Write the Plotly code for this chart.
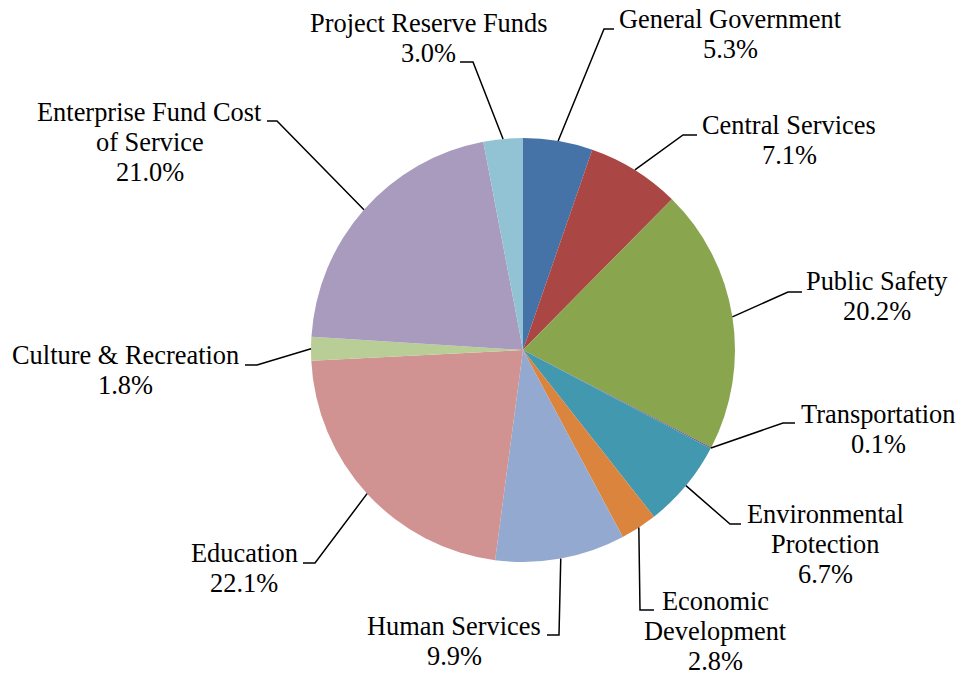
import math
import plotly.graph_objects as go

# ---- data ----
categories = ["General Government", "Central Services", "Public Safety", "Transportation",
              "Environmental Protection", "Economic Development", "Human Services", "Education",
              "Culture & Recreation", "Enterprise Fund Cost of Service", "Project Reserve Funds"]
values = [5.3, 7.1, 20.2, 0.1, 6.7, 2.8, 9.9, 22.1, 1.8, 21.0, 3.0]
label_lines = [["General Government"], ["Central Services"], ["Public Safety"], ["Transportation"],
               ["Environmental", "Protection"], ["Economic", "Development"], ["Human Services"],
               ["Education"], ["Culture & Recreation"], ["Enterprise Fund Cost", "of Service"],
               ["Project Reserve Funds"]]

# ---- style / layout ----
colors = ["#4572A7", "#AA4643", "#89A54E", "#71588F", "#4198AF", "#DB843D", "#93A9CF",
          "#D19392", "#B9CD96", "#A99BBD", "#92C3D4"]
W, H = 959, 675
CX, CY, R = 523, 350, 212
FONT = "Liberation Serif, Times New Roman, serif"
FS = 26.4
LINE_H = 30.2
# label text center x and first-line baseline y (px)
label_pos = [(730, 28), (789, 134), (877, 290), (878, 423), (825, 523), (715, 610),
             (454, 635), (244, 562), (125, 364), (149.5, 121), (428, 32)]
# leader line elbow and end (px)
elbow_pos = [(604, 29), (683, 135), (788, 292), (783, 423), (730, 524), (640, 610),
             (559, 635), (315, 563), (257, 365), (277, 121), (473, 62)]
end_pos = [(614, 29), (697, 135), (802, 292), (795, 423), (741, 524), (654, 610),
           (547, 635), (303, 563), (245, 365), (267, 121), (460, 62)]


def px(x):
    return x / W


def py(y):
    return 1 - y / H


fig = go.Figure(go.Pie(
    labels=categories, values=values, sort=False, direction="clockwise", rotation=0,
    marker=dict(colors=colors, line=dict(color="white", width=0)),
    textinfo="none", hoverinfo="label+percent", showlegend=False,
    domain=dict(x=[px(CX - R), px(CX + R)], y=[py(CY + R), py(CY - R)]),
))

annotations = []
shapes = []
total = sum(values)
cum = 0.0
for i, v in enumerate(values):
    mid = (cum + v / 2) / total * 2 * math.pi
    cum += v
    sx = CX + R * math.sin(mid)
    sy = CY - R * math.cos(mid)
    ex, ey = elbow_pos[i]
    fx, fy = end_pos[i]
    path = f"M {px(sx)} {py(sy)} L {px(ex)} {py(ey)} L {px(fx)} {py(fy)}"
    shapes.append(dict(type="path", xref="paper", yref="paper", path=path,
                       line=dict(color="black", width=1.5)))
    lines = label_lines[i] + [f"{v:.1f}%"]
    lx, ly = label_pos[i]
    for j, t in enumerate(lines):
        base = ly + j * LINE_H
        annotations.append(dict(x=px(lx), y=py(base - 0.3375 * FS), xref="paper", yref="paper",
                                text=t, showarrow=False, xanchor="center", yanchor="middle",
                                borderpad=0,
                                font=dict(family=FONT, size=FS, color="black")))

fig.update_layout(width=W, height=H, margin=dict(l=0, r=0, t=0, b=0),
                  paper_bgcolor="white", plot_bgcolor="white",
                  font=dict(family=FONT),
                  annotations=annotations, shapes=shapes)
fig.write_html("out.html", config={"displayModeBar": False},
               post_script="document.body.style.margin='0px';")
